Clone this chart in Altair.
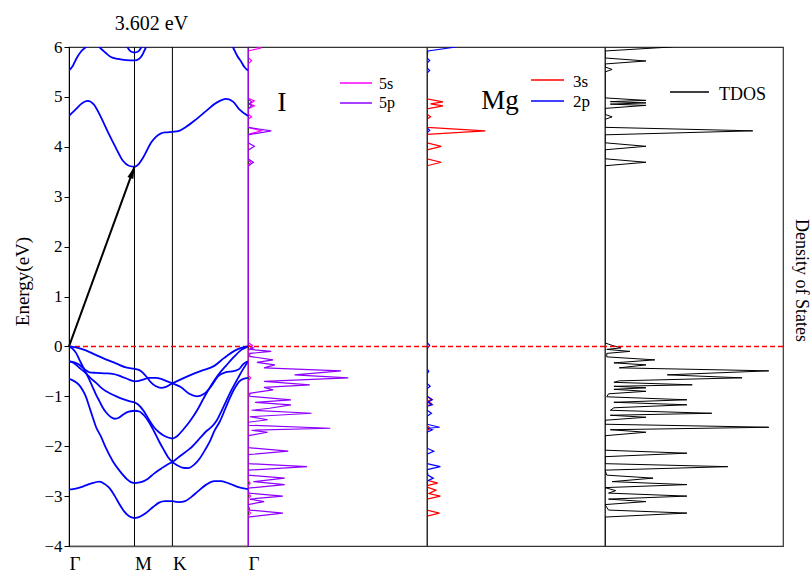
import altair as alt
import pandas as pd

SERIF = "Liberation Serif"

# ---------------------------------------------------------------------------
# k-path Γ–M–K–Γ (path length units) and energy window (eV)
# ---------------------------------------------------------------------------
K_POINTS = [0.0, 0.577, 0.911, 1.577]
K_LABELS = ["Γ", "M", "K", "Γ"]
E_RANGE = [-4, 6]
GAP = 3.602  # indirect gap: VBM at Γ -> CBM at M

# ---------------------------------------------------------------------------
# band structure, (k, E) samples per band segment
# ---------------------------------------------------------------------------
vb1_gm = [(0, 0), (0.059, -0.02), (0.148, -0.08), (0.236, -0.17), (0.324, -0.26),
          (0.413, -0.34), (0.501, -0.42), (0.577, -0.45)]
vb2_gm = [(0, 0), (0.033, -0.05), (0.062, -0.13), (0.092, -0.27), (0.121, -0.40),
          (0.150, -0.53), (0.180, -0.67), (0.209, -0.82), (0.239, -0.97), (0.269, -1.10),
          (0.298, -1.23), (0.333, -1.34), (0.371, -1.42), (0.404, -1.45), (0.439, -1.43),
          (0.475, -1.37), (0.519, -1.31), (0.577, -1.29)]
vb3_gm = [(0, -0.30), (0.033, -0.31), (0.092, -0.37), (0.139, -0.46), (0.180, -0.52),
          (0.239, -0.53), (0.324, -0.54), (0.386, -0.55), (0.457, -0.60), (0.534, -0.67),
          (0.577, -0.70)]
vb4_gm = [(0, -0.30), (0.033, -0.32), (0.062, -0.37), (0.103, -0.45), (0.150, -0.54),
          (0.192, -0.64), (0.239, -0.73), (0.280, -0.82), (0.327, -0.90), (0.386, -0.97),
          (0.446, -1.03), (0.510, -1.08), (0.577, -1.12)]
vb5_gm = [(0, -0.65), (0.033, -0.68), (0.062, -0.72), (0.092, -0.78), (0.121, -0.88),
          (0.148, -1.00), (0.180, -1.22), (0.209, -1.42), (0.239, -1.62), (0.280, -1.80),
          (0.324, -2.03), (0.386, -2.30), (0.448, -2.50), (0.510, -2.66), (0.545, -2.72),
          (0.577, -2.74)]
vb6_gm = [(0, -2.87), (0.059, -2.85), (0.121, -2.81), (0.192, -2.75), (0.269, -2.71),
          (0.316, -2.76), (0.357, -2.84), (0.404, -3.00), (0.446, -3.17), (0.484, -3.30),
          (0.534, -3.41), (0.577, -3.44)]

vb1_mk = [(0.577, -0.45), (0.616, -0.47), (0.652, -0.53), (0.687, -0.62), (0.722, -0.72),
          (0.766, -0.80), (0.811, -0.83), (0.855, -0.81), (0.911, -0.74)]
vb2_mk = [(0.577, -0.70), (0.616, -0.69), (0.660, -0.66), (0.705, -0.63), (0.766, -0.63),
          (0.811, -0.65), (0.855, -0.69), (0.911, -0.74)]
vb3_mk = [(0.577, -1.12), (0.616, -1.18), (0.660, -1.30), (0.705, -1.47), (0.749, -1.62),
          (0.793, -1.72), (0.846, -1.80), (0.911, -1.85)]
vb4_mk = [(0.577, -1.29), (0.616, -1.30), (0.660, -1.38), (0.705, -1.52), (0.749, -1.70),
          (0.793, -1.90), (0.837, -2.08), (0.873, -2.22), (0.911, -2.32)]
vb5_mk = [(0.577, -2.74), (0.634, -2.72), (0.696, -2.65), (0.749, -2.55), (0.811, -2.45),
          (0.864, -2.37), (0.911, -2.32)]
vb6_mk = [(0.577, -3.44), (0.616, -3.42), (0.678, -3.34), (0.740, -3.22), (0.793, -3.13),
          (0.846, -3.10), (0.911, -3.10)]

vb1_kg = [(0.911, -0.74), (1.014, -0.63), (1.165, -0.49), (1.280, -0.39), (1.368, -0.23),
          (1.457, -0.09), (1.518, -0.03), (1.577, 0.0)]
vb2_kg = [(0.911, -0.74), (0.988, -0.82), (1.059, -0.95), (1.129, -1.00), (1.191, -0.95),
          (1.253, -0.80), (1.312, -0.60), (1.377, -0.52), (1.457, -0.49), (1.501, -0.45),
          (1.533, -0.36), (1.577, -0.30)]
vb3_kg = [(0.911, -1.85), (0.952, -1.80), (1.005, -1.67), (1.065, -1.50), (1.129, -1.28),
          (1.191, -1.02), (1.253, -0.78), (1.315, -0.57), (1.386, -0.38), (1.457, -0.20),
          (1.518, -0.07), (1.577, 0.0)]
vb4_kg = [(0.911, -2.32), (0.988, -2.18), (1.065, -2.05), (1.153, -1.84), (1.209, -1.70),
          (1.253, -1.62), (1.297, -1.50), (1.359, -1.22), (1.421, -0.92), (1.483, -0.66),
          (1.527, -0.48), (1.577, -0.30)]
vb5_kg = [(0.911, -2.32), (0.952, -2.38), (0.997, -2.43), (1.050, -2.44), (1.103, -2.37),
          (1.153, -2.24), (1.200, -2.07), (1.242, -1.90), (1.280, -1.70), (1.330, -1.50),
          (1.395, -1.15), (1.457, -0.85), (1.501, -0.70), (1.536, -0.65), (1.577, -0.63)]
vb6_kg = [(0.911, -3.10), (0.970, -3.12), (1.023, -3.10), (1.076, -3.02), (1.138, -2.90),
          (1.209, -2.77), (1.280, -2.70), (1.342, -2.70), (1.413, -2.75), (1.492, -2.82),
          (1.577, -2.86)]

cb1 = [(0, 4.62), (0.059, 4.75), (0.103, 4.85), (0.165, 4.92), (0.218, 4.85), (0.280, 4.60),
       (0.342, 4.30), (0.413, 3.98), (0.475, 3.72), (0.528, 3.62), (0.577, 3.602),
       (0.616, 3.66), (0.652, 3.78), (0.687, 3.93), (0.722, 4.08), (0.766, 4.20),
       (0.811, 4.27), (0.855, 4.29), (0.911, 4.30), (0.970, 4.32), (1.032, 4.40),
       (1.120, 4.55), (1.209, 4.72), (1.297, 4.88), (1.386, 4.96), (1.448, 4.90),
       (1.501, 4.75), (1.577, 4.62)]
cb2 = [(0, 5.53), (0.033, 5.62), (0.068, 5.78), (0.103, 5.90), (0.139, 5.98), (0.192, 6.04),
       (0.245, 6.03), (0.280, 5.97), (0.324, 5.88), (0.369, 5.80), (0.430, 5.76),
       (0.501, 5.735), (0.577, 5.73), (0.616, 5.76), (0.643, 5.83), (0.669, 5.95),
       (0.696, 6.08), (0.722, 6.20)]
cb3 = [(0.492, 6.10), (0.519, 5.98), (0.545, 5.91), (0.577, 5.89), (0.609, 5.91),
       (0.634, 5.98), (0.660, 6.10)]
cb4 = [(1.412, 6.15), (1.448, 5.98), (1.483, 5.82), (1.518, 5.70), (1.545, 5.60),
       (1.577, 5.53)]

band_segments = {
    "vb1_gm": vb1_gm, "vb2_gm": vb2_gm, "vb3_gm": vb3_gm, "vb4_gm": vb4_gm,
    "vb5_gm": vb5_gm, "vb6_gm": vb6_gm,
    "vb1_mk": vb1_mk, "vb2_mk": vb2_mk, "vb3_mk": vb3_mk, "vb4_mk": vb4_mk,
    "vb5_mk": vb5_mk, "vb6_mk": vb6_mk,
    "vb1_kg": vb1_kg, "vb2_kg": vb2_kg, "vb3_kg": vb3_kg, "vb4_kg": vb4_kg,
    "vb5_kg": vb5_kg, "vb6_kg": vb6_kg,
    "cb1": cb1, "cb2": cb2, "cb3": cb3, "cb4": cb4,
}

# ---------------------------------------------------------------------------
# projected densities of states, (E, DOS) samples
# ---------------------------------------------------------------------------
i_5s = [(-4.0, 0), (-3.40, 0), (-3.34, 0.15), (-3.28, 0), (-3.05, 0), (-3.00, 0.15),
        (-2.95, 0), (-2.80, 0), (-2.74, 0.12), (-2.68, 0), (-0.70, 0), (-0.63, 0.15),
        (-0.58, 0), (-0.10, 0), (0.02, 0.25), (0.08, 0), (3.62, 0), (3.69, 0.15),
        (3.75, 0), (4.25, 0), (4.32, 0.75), (4.39, 0), (4.55, 0), (4.60, 0.20), (4.66, 0),
        (4.76, 0), (4.82, 0.35), (4.86, 0.10), (4.92, 0.35), (4.97, 0), (5.66, 0),
        (5.73, 0.20), (5.79, 0), (5.92, 0), (5.98, 0.75), (6.02, 0.30), (6.06, 0)]
i_5p = [(-4.0, 0), (-3.42, 0), (-3.34, 1.95), (-3.28, 0.1), (-3.17, 0), (-3.11, 0.9),
        (-3.06, 0.1), (-3.00, 1.95), (-2.94, 0.05), (-2.84, 0), (-2.77, 2.05), (-2.71, 0.3),
        (-2.64, 2.05), (-2.58, 0), (-2.48, 0), (-2.41, 3.3), (-2.35, 0), (-2.17, 0),
        (-2.10, 2.25), (-2.03, 0), (-1.79, 0), (-1.72, 1.1), (-1.68, 0.2), (-1.64, 4.6),
        (-1.58, 0), (-1.52, 0), (-1.47, 1.1), (-1.41, 0.1), (-1.34, 3.55), (-1.28, 0.2),
        (-1.24, 1.2), (-1.17, 2.4), (-1.12, 0.4), (-1.07, 2.4), (-1.00, 0.1), (-0.94, 0.1),
        (-0.87, 1.4), (-0.82, 0.9), (-0.77, 3.45), (-0.70, 0.9), (-0.63, 5.6), (-0.57, 2.6),
        (-0.49, 5.2), (-0.43, 0.9), (-0.37, 1.5), (-0.32, 0.5), (-0.27, 1.4), (-0.20, 0.1),
        (-0.14, 0.1), (-0.10, 1.3), (-0.06, 0.1), (-0.03, 0.3), (0.03, 0), (3.61, 0),
        (3.69, 0.3), (3.76, 0), (3.93, 0), (4.01, 0.36), (4.08, 0), (4.24, 0), (4.32, 1.3),
        (4.39, 0), (4.76, 0), (4.82, 0.2), (4.86, 0.05), (4.90, 0.2), (4.96, 0), (6.1, 0)]
mg_3s = [(-4.0, 0), (-3.40, 0), (-3.34, 0.7), (-3.28, 0), (-3.06, 0), (-3.00, 0.75),
         (-2.95, 0.1), (-2.88, 0.5), (-2.82, 0), (-2.79, 0), (-2.74, 0.6), (-2.68, 0),
         (-1.70, 0), (-1.64, 0.15), (-1.58, 0), (-1.20, 0), (-1.15, 0.25), (-1.10, 0.05),
         (-1.06, 0.25), (-1.00, 0), (3.62, 0), (3.69, 0.8), (3.76, 0), (3.94, 0),
         (4.01, 0.8), (4.08, 0), (4.25, 0), (4.32, 3.28), (4.39, 0), (4.55, 0), (4.60, 0.2),
         (4.65, 0), (4.76, 0), (4.82, 0.9), (4.86, 0.2), (4.90, 0.9), (4.96, 0), (6.1, 0)]
mg_2p = [(-4.0, 0), (-2.70, 0), (-2.64, 0.35), (-2.58, 0.05), (-2.47, 0), (-2.41, 0.75),
         (-2.35, 0), (-2.16, 0), (-2.10, 0.38), (-2.04, 0), (-1.72, 0), (-1.67, 0.3),
         (-1.64, 0.05), (-1.62, 0.71), (-1.56, 0), (-1.40, 0), (-1.34, 0.25), (-1.28, 0),
         (-1.20, 0), (-1.17, 0.3), (-1.12, 0.05), (-1.07, 0.3), (-1.00, 0), (-0.85, 0),
         (-0.80, 0.18), (-0.74, 0), (-0.55, 0), (-0.50, 0.1), (-0.45, 0), (-0.05, 0),
         (0.02, 0.15), (0.08, 0), (4.28, 0), (4.33, 0.15), (4.38, 0), (5.48, 0),
         (5.53, 0.15), (5.58, 0), (5.68, 0), (5.73, 0.15), (5.78, 0), (5.92, 0.05),
         (6.00, 1.65), (6.05, 0.8)]
tdos = [(-4.0, 0), (-3.42, 0), (-3.34, 4.6), (-3.28, 0.2), (-3.17, 0), (-3.11, 2.3),
        (-3.06, 0.2), (-3.00, 4.6), (-2.94, 0.2), (-2.89, 0.6), (-2.83, 0), (-2.77, 4.6),
        (-2.71, 0.4), (-2.64, 2.7), (-2.58, 0.1), (-2.48, 0), (-2.41, 6.9), (-2.35, 0),
        (-2.21, 0), (-2.14, 4.6), (-2.08, 0), (-1.79, 0), (-1.72, 2.3), (-1.67, 0.3),
        (-1.62, 9.2), (-1.56, 0), (-1.48, 0), (-1.42, 2.3), (-1.38, 0.3), (-1.34, 6.0),
        (-1.28, 0.3), (-1.23, 0.5), (-1.17, 4.6), (-1.12, 0.5), (-1.07, 4.6), (-1.01, 0.1),
        (-0.95, 0.2), (-0.90, 2.3), (-0.86, 0.5), (-0.83, 2.3), (-0.80, 0.5), (-0.77, 4.9),
        (-0.72, 0.5), (-0.69, 0.8), (-0.63, 7.7), (-0.57, 3.5), (-0.49, 9.2), (-0.43, 0.8),
        (-0.37, 2.3), (-0.33, 0.5), (-0.27, 2.8), (-0.21, 0.1), (-0.14, 0.1), (-0.10, 1.4),
        (-0.06, 0.1), (-0.03, 0.9), (0.02, 0.4), (0.07, 0), (3.62, 0), (3.69, 2.3),
        (3.76, 0), (3.94, 0), (4.01, 2.3), (4.08, 0), (4.24, 0), (4.32, 8.3), (4.39, 0),
        (4.55, 0), (4.60, 0.4), (4.65, 0), (4.77, 0), (4.83, 2.3), (4.855, 0.3), (4.88, 2.3),
        (4.905, 0.3), (4.93, 2.3), (4.98, 0), (5.50, 0), (5.55, 0.4), (5.60, 0), (5.66, 0),
        (5.72, 2.3), (5.78, 0), (5.92, 0), (6.00, 3.7), (6.05, 4.5)]

DOS_MAX = 10

# ---------------------------------------------------------------------------
# helpers
# ---------------------------------------------------------------------------
PANEL_H = 499
BAND_W, DOS_W = 179, 178

e_scale = alt.Scale(domain=E_RANGE, nice=False, zero=False)
dos_scale = alt.Scale(domain=[0, DOS_MAX], nice=False, zero=False)
k_scale = alt.Scale(domain=[K_POINTS[0], K_POINTS[-1]], nice=False, zero=False)


def band_frame():
    rows = []
    for name, pts in band_segments.items():
        for i, (k, e) in enumerate(pts):
            rows.append({"band": name, "i": i, "k": k, "E": e})
    return pd.DataFrame(rows)


def dos_frame(pts):
    return pd.DataFrame([{"i": i, "E": e, "dos": d} for i, (e, d) in enumerate(pts)])


one_row = pd.DataFrame({"a": [0]})

label_expr = (
    f"datum.value < {(K_POINTS[0] + K_POINTS[1]) / 2} ? '{K_LABELS[0]}' : "
    f"datum.value < {(K_POINTS[1] + K_POINTS[2]) / 2} ? '{K_LABELS[1]}' : "
    f"datum.value < {(K_POINTS[2] + K_POINTS[3]) / 2} ? '{K_LABELS[2]}' : '{K_LABELS[3]}'"
)

k_axis = alt.Axis(values=K_POINTS, labelExpr=label_expr, labelAlign="left",
                  labelFont=SERIF, labelFontSize=19, labelColor="black", labelPadding=8,
                  labelFlush=False, labelOverlap=False, ticks=False, grid=False,
                  title=None, domainColor="#555555", domainWidth=1.5)
e_axis = alt.Axis(values=list(range(E_RANGE[0], E_RANGE[1] + 1)), format="d",
                  labelFont=SERIF, labelFontSize=17, labelColor="black", labelPadding=2,
                  labelFlush=False, tickSize=5, tickColor="black", domainColor="black",
                  grid=False, title="Energy(eV)", titleFont=SERIF, titleFontSize=19,
                  titleFontWeight="normal", titleColor="black", titleX=-47, titleY=234,
                  titleBaseline="middle")
dos_e_axis_right = alt.Axis(orient="right", labels=False, ticks=False, domain=False,
                            grid=False, title="Density of States", titleFont=SERIF,
                            titleFontSize=18, titleFontWeight="normal", titleColor="black",
                            titleAngle=90, titleAlign="center", titleBaseline="middle",
                            titleX=17, titleY=233)


def fermi_line(axis):
    return alt.Chart(pd.DataFrame({"E": [0.0]})).mark_rule(
        color="#ff0000", strokeWidth=1.5, strokeDash=[5, 3]
    ).encode(y=alt.Y("E:Q", scale=e_scale, axis=axis))


def dos_line(pts, color, axis, width=1.2):
    return alt.Chart(dos_frame(pts)).mark_line(color=color, strokeWidth=width, clip=True).encode(
        x=alt.X("dos:Q", scale=dos_scale, axis=None),
        y=alt.Y("E:Q", scale=e_scale, axis=axis),
        order="i:Q",
    )


def key_line(x1, x2, y, color):
    return alt.Chart(one_row).mark_rule(color=color, strokeWidth=1.5).encode(
        x=alt.value(x1), x2=alt.value(x2), y=alt.value(y))


def key_text(text, x, y, size, align="left"):
    return alt.Chart(one_row).mark_text(
        text=text, font=SERIF, fontSize=size, align=align, baseline="alphabetic", color="black"
    ).encode(x=alt.value(x), y=alt.value(y))


# ---------------------------------------------------------------------------
# band-structure panel
# ---------------------------------------------------------------------------
xk = alt.X("k:Q", scale=k_scale, axis=k_axis)
ye = alt.Y("E:Q", scale=e_scale, axis=e_axis)

bands = alt.Chart(band_frame()).mark_line(
    color="#0000ff", strokeWidth=1.8, clip=True, interpolate="monotone"
).encode(x=xk, y=ye, detail="band:N", order="i:Q")

sym_lines = alt.Chart(pd.DataFrame({"k": K_POINTS[1:3]})).mark_rule(
    color="black", strokeWidth=1
).encode(x=xk)

arrow_df = pd.DataFrame({"k": [K_POINTS[0], K_POINTS[1]], "E": [0.0, GAP]})
arrow_shaft = alt.Chart(arrow_df).mark_line(color="black", strokeWidth=2).encode(x=xk, y=ye)
arrow_tip = alt.Chart(arrow_df.iloc[[1]]).mark_point(
    shape="M0,0L-0.6,2.3L0.6,2.3Z", size=110, angle=19.9, filled=True,
    color="black", opacity=1
).encode(x=xk, y=ye)

band_panel = alt.layer(
    sym_lines, fermi_line(e_axis), bands, arrow_shaft, arrow_tip
).properties(
    width=BAND_W, height=PANEL_H,
    title=alt.TitleParams(f"{GAP} eV", font=SERIF, fontSize=20, fontWeight="normal",
                          color="black", anchor="middle", dx=-7, offset=4),
)

# ---------------------------------------------------------------------------
# DOS panels
# ---------------------------------------------------------------------------
C_5S, C_5P = "#ff00ff", "#8f00ff"
C_3S, C_2P = "#ff0000", "#0000ff"

i_panel = alt.layer(
    dos_line(i_5s, C_5S, None),
    dos_line(i_5p, C_5P, None),
    fermi_line(None),
    key_text("I", 34, 64, 28, align="center"),
    key_line(92, 124, 36, C_5S),
    key_line(92, 124, 56, C_5P),
    key_text("5s", 131, 42, 16),
    key_text("5p", 131, 61, 16),
).properties(width=BAND_W, height=PANEL_H)

mg_panel = alt.layer(
    dos_line(mg_3s, C_3S, None),
    dos_line(mg_2p, C_2P, None),
    fermi_line(None),
    key_text("Mg", 73, 62, 27, align="center"),
    key_line(104, 137, 33, C_3S),
    key_line(104, 137, 54, C_2P),
    key_text("3s", 146, 40, 17),
    key_text("2p", 146, 60, 17),
).properties(width=DOS_W, height=PANEL_H)

t_panel = alt.layer(
    dos_line(tdos, "black", dos_e_axis_right, width=1.0),
    fermi_line(dos_e_axis_right),
    key_line(65, 104, 45, "black"),
    key_text("TDOS", 114, 53, 18),
).properties(width=DOS_W, height=PANEL_H)

chart = alt.hconcat(
    band_panel, i_panel, mg_panel, t_panel, spacing=0, bounds="flush"
).resolve_scale(
    x="independent", y="independent"
).properties(
    padding={"left": 12, "top": 13, "right": 0, "bottom": 0},
    background="white",
).configure_view(
    stroke="#333333", strokeWidth=1.2
)

chart.save("out.html", embed_options={"renderer": "svg", "actions": False})
